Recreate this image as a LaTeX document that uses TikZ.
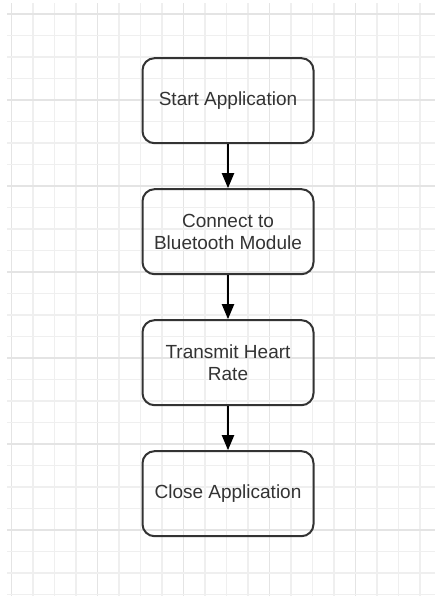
\documentclass[tikz,border=0pt]{standalone}
\usepackage{fontspec}
\setmainfont{Liberation Sans}
\definecolor{boxline}{RGB}{51, 51, 51}
\definecolor{gridminor}{RGB}{239, 239, 239}
\definecolor{gridmajor}{RGB}{228, 228, 228}
\usetikzlibrary{arrows.meta, positioning}

\begin{document}
\begin{tikzpicture}[x=1pt, y=-1pt,
    stepbox/.style={draw=boxline, line width=2pt, rounded corners=12pt,
      minimum width=171pt, minimum height=85pt, align=center,
      text=boxline, font=\fontsize{19}{22.3}\selectfont},
    flow/.style={-{Triangle[length=15pt, width=12pt]}, line width=2pt, black}]
        \useasboundingbox (0,0) rectangle (435,596);

        % grid paper
        \foreach \i in {0,...,19}{
          \pgfmathsetmacro{\gx}{11.7+21.5*\i}
          \pgfmathparse{mod(\i,4)==0 ? "gridmajor" : "gridminor"}
          \draw[\pgfmathresult, line width=1.5pt] (\gx,3) -- (\gx,596);
        }
        \foreach \j in {0,...,27}{
          \pgfmathsetmacro{\gy}{14+21.5*\j}
          \pgfmathparse{mod(\j,4)==0 ? "gridmajor" : "gridminor"}
          \draw[\pgfmathresult, line width=1.5pt] (7,\gy) -- (435,\gy);
        }

        % steps
        \node[stepbox] (start) at (228, 100.7) {Start Application};
        \node[stepbox, below=44pt of start] (connect)
          {Connect to\\Bluetooth Module};
        \node[stepbox, below=44pt of connect] (transmit)
          {Transmit Heart\\Rate};
        \node[stepbox, below=44pt of transmit] (close) {Close Application};

        \draw[flow] (start) -- (connect);
        \draw[flow] (connect) -- (transmit);
        \draw[flow] (transmit) -- (close);
      \end{tikzpicture}
\end{document}
